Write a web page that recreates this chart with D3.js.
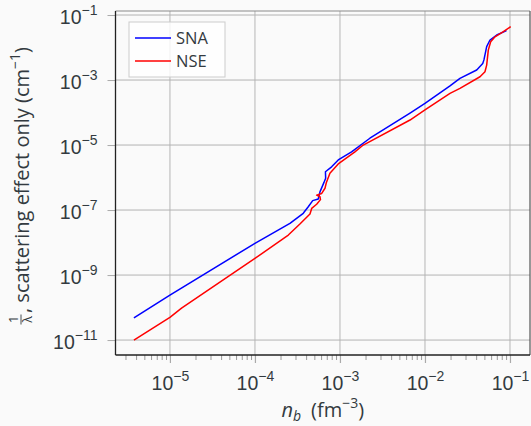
<!DOCTYPE html>
<html>
<head>
<meta charset="utf-8">
<script src="https://cdn.jsdelivr.net/npm/d3@7"></script>
<style>
  body { margin: 0; background: #fafafa; }
  svg { display: block; font-family: "Open Sans", sans-serif; }
</style>
</head>
<body>
<svg id="chart" width="531" height="426"></svg>
<script>
// n_b (fm^-3) and 1/lambda (cm^-1)
var snaN = [3.77e-6, 1.0e-5, 1.0e-4, 2.58e-4, 3.70e-4, 4.24e-4, 4.78e-4, 5.56e-4, 5.82e-4, 6.49e-4,
            6.79e-4, 6.75e-4, 7.98e-4, 9.55e-4, 1.37e-3, 2.25e-3, 6.67e-3, 1.0e-2, 1.97e-2, 2.58e-2,
            4.06e-2, 4.78e-2, 4.94e-2, 5.32e-2, 5.82e-2, 6.98e-2, 9.10e-2];
var snaV = [4.79e-11, 2.43e-10, 9.44e-9, 3.89e-8, 7.94e-8, 1.26e-7, 1.95e-7, 2.19e-7, 3.63e-7, 7.08e-7,
            9.55e-7, 1.51e-6, 2.14e-6, 3.47e-6, 6.17e-6, 1.62e-5, 9.55e-5, 1.91e-4, 6.61e-4, 1.12e-3,
            2.04e-3, 3.24e-3, 4.17e-3, 1.06e-2, 1.70e-2, 2.43e-2, 3.31e-2];

var nseN = [3.77e-6, 1.0e-5, 1.37e-5, 1.0e-4, 2.47e-4, 3.38e-4, 4.44e-4, 4.65e-4, 5.32e-4, 5.90e-4,
            5.82e-4, 5.32e-4, 6.10e-4, 6.67e-4, 6.93e-4, 7.62e-4, 9.55e-4, 1.50e-3, 1.88e-3, 6.67e-3,
            1.0e-2, 1.97e-2, 2.58e-2, 4.44e-2, 5.08e-2, 5.32e-2, 5.56e-2, 5.93e-2, 6.67e-2, 8.36e-2, 1.02e-1];
var nseV = [1.0e-11, 5.01e-11, 9.55e-11, 3.24e-9, 1.70e-8, 3.72e-8, 7.59e-8, 1.12e-7, 1.51e-7, 2.09e-7,
            2.57e-7, 2.88e-7, 3.24e-7, 4.68e-7, 7.08e-7, 1.35e-6, 2.63e-6, 6.17e-6, 1.0e-5, 5.89e-5,
            1.20e-4, 3.89e-4, 5.56e-4, 1.26e-3, 1.80e-3, 2.88e-3, 8.32e-3, 1.51e-2, 2.14e-2, 3.09e-2, 4.37e-2];

var xTickExp = [-5, -4, -3, -2, -1];
var yTickExp = [-11, -9, -7, -5, -3, -1];
var seriesNames = ["SNA", "NSE"];
var seriesColors = ["#0000ff", "#ff0000"];

var margin = {left: 115.5, top: 11, right: 1, bottom: 71};
var width = 531, height = 426;

var svg = d3.select("#chart");
var textColor = "#333a40";

var x = d3.scaleLog()
    .domain([2.29e-6, 0.172])
    .range([margin.left, width - margin.right]);
var y = d3.scaleLog()
    .domain([3.47e-12, 0.133])
    .range([height - margin.bottom, margin.top]);

var x0 = margin.left, x1 = width - margin.right;
var y0 = height - margin.bottom, y1 = margin.top;

// vertical grid
svg.append("g")
    .selectAll("line")
    .data(xTickExp)
    .join("line")
    .attr("x1", d => x(Math.pow(10, d))).attr("x2", d => x(Math.pow(10, d)))
    .attr("y1", y1).attr("y2", y0)
    .attr("stroke", "#cfcfcf").attr("stroke-width", 1.6);

// horizontal grid
svg.append("g")
    .selectAll("line")
    .data(yTickExp)
    .join("line")
    .attr("x1", x0).attr("x2", x1)
    .attr("y1", d => y(Math.pow(10, d))).attr("y2", d => y(Math.pow(10, d)))
    .attr("stroke", "#b3b3b3").attr("stroke-width", 1);

// minor x ticks
var minor = [];
for (var e = -6; e <= -1; e++) {
    for (var k = 2; k <= 9; k++) {
        var v = k * Math.pow(10, e);
        if (v >= x.domain()[0] && v <= x.domain()[1]) minor.push(v);
    }
}

svg.append("g")
    .attr("transform", "translate(0," + y0 + ")")
    .call(d3.axisBottom(x).tickValues(minor).tickSize(5).tickFormat(""))
    .call(g => g.select(".domain").remove())
    .call(g => g.selectAll("line").attr("stroke", "#999").attr("stroke-width", 1));

var xAxis = svg.append("g")
    .attr("transform", "translate(0," + y0 + ")")
    .call(d3.axisBottom(x).tickValues(xTickExp.map(d => Math.pow(10, d))).tickSize(8).tickFormat(""))
    .call(g => g.select(".domain").remove())
    .call(g => g.selectAll("line").attr("stroke", "#aaa").attr("stroke-width", 1.2));

var yAxis = svg.append("g")
    .attr("transform", "translate(" + x0 + ",0)")
    .call(d3.axisLeft(y).tickValues(yTickExp.map(d => Math.pow(10, d))).tickSize(8).tickFormat(""))
    .call(g => g.select(".domain").remove())
    .call(g => g.selectAll("line").attr("stroke", "#aaa").attr("stroke-width", 1));

// tick labels 10^e
function powLabel(sel, e) {
    sel.append("tspan").text("10");
    sel.append("tspan").attr("dy", -9).attr("font-size", 14).text("\u2212" + Math.abs(e));
}

xAxis.selectAll(".tick").each(function (d) {
    var t = d3.select(this).append("text")
        .attr("y", 35).attr("fill", textColor).attr("font-size", 19.5)
        .attr("text-anchor", "middle");
    powLabel(t, Math.round(Math.log10(d)));
});

yAxis.selectAll(".tick").each(function (d) {
    var t = d3.select(this).append("text")
        .attr("x", -18).attr("y", 8).attr("fill", textColor).attr("font-size", 19.5)
        .attr("text-anchor", "end");
    powLabel(t, Math.round(Math.log10(d)));
});

// curves
var line = d3.line().x(d => x(d[0])).y(d => y(d[1]));
var series = [d3.zip(snaN, snaV), d3.zip(nseN, nseV)];

svg.append("g")
    .selectAll("path")
    .data(series)
    .join("path")
    .attr("d", line)
    .attr("fill", "none")
    .attr("stroke", (d, i) => seriesColors[i])
    .attr("stroke-width", 1.5)
    .attr("stroke-linejoin", "round");

// spines
svg.append("line").attr("x1", x0).attr("x2", x1).attr("y1", y1).attr("y2", y1)
    .attr("stroke", "#8a8a8a").attr("stroke-width", 1.2);
svg.append("line").attr("x1", x1).attr("x2", x1).attr("y1", y1).attr("y2", y0)
    .attr("stroke", "#555").attr("stroke-width", 1.2);
svg.append("line").attr("x1", x0).attr("x2", x0).attr("y1", y1).attr("y2", y0)
    .attr("stroke", "#222").attr("stroke-width", 1.3);
svg.append("line").attr("x1", x0).attr("x2", x1).attr("y1", y0).attr("y2", y0)
    .attr("stroke", "#222").attr("stroke-width", 1.3);

// legend
var legend = svg.append("g").attr("transform", "translate(129,22)");
legend.append("rect")
    .attr("width", 96).attr("height", 55)
    .attr("fill", "#ffffff").attr("fill-opacity", 0.8)
    .attr("stroke", "#cccccc");
seriesNames.forEach(function (name, i) {
    var gy = 16 + i * 23;
    legend.append("line")
        .attr("x1", 6).attr("x2", 42).attr("y1", gy).attr("y2", gy)
        .attr("stroke", seriesColors[i]).attr("stroke-width", 1.3);
    legend.append("text")
        .attr("x", 47).attr("y", gy + 6)
        .attr("fill", textColor).attr("font-size", 16.5)
        .text(name);
});

// x label
var xl = svg.append("text")
    .attr("x", (x0 + x1) / 2).attr("y", 417)
    .attr("text-anchor", "middle").attr("fill", textColor).attr("font-size", 20);
xl.append("tspan").attr("font-style", "italic").text("n");
xl.append("tspan").attr("font-style", "italic").attr("font-size", 14).attr("dy", 3.5).text("b");
xl.append("tspan").attr("dy", -3.5).text("\u2002(fm");
xl.append("tspan").attr("dy", -9).attr("font-size", 14).text("\u22123");
xl.append("tspan").attr("dy", 9).text(")");

// y label, rotated
var yl = svg.append("g").attr("transform", "translate(29,324) rotate(-90)");
yl.append("text").attr("x", 4.5).attr("y", -11.5).attr("text-anchor", "middle")
    .attr("font-size", 12.5).attr("fill", textColor).text("1");
yl.append("line").attr("x1", -0.5).attr("x2", 9.5).attr("y1", -8).attr("y2", -8)
    .attr("stroke", textColor).attr("stroke-width", 0.9);
yl.append("text").attr("x", 4.5).attr("y", 3).attr("text-anchor", "middle")
    .attr("font-size", 12.5).attr("fill", textColor).text("\u03bb");
var ylt = yl.append("text").attr("x", 11).attr("y", 0)
    .attr("fill", textColor).attr("font-size", 20);
ylt.append("tspan").text(", scattering effect only (cm");
ylt.append("tspan").attr("dy", -9).attr("font-size", 14).text("\u22121");
ylt.append("tspan").attr("dy", 9).text(")");
</script>
</body>
</html>
